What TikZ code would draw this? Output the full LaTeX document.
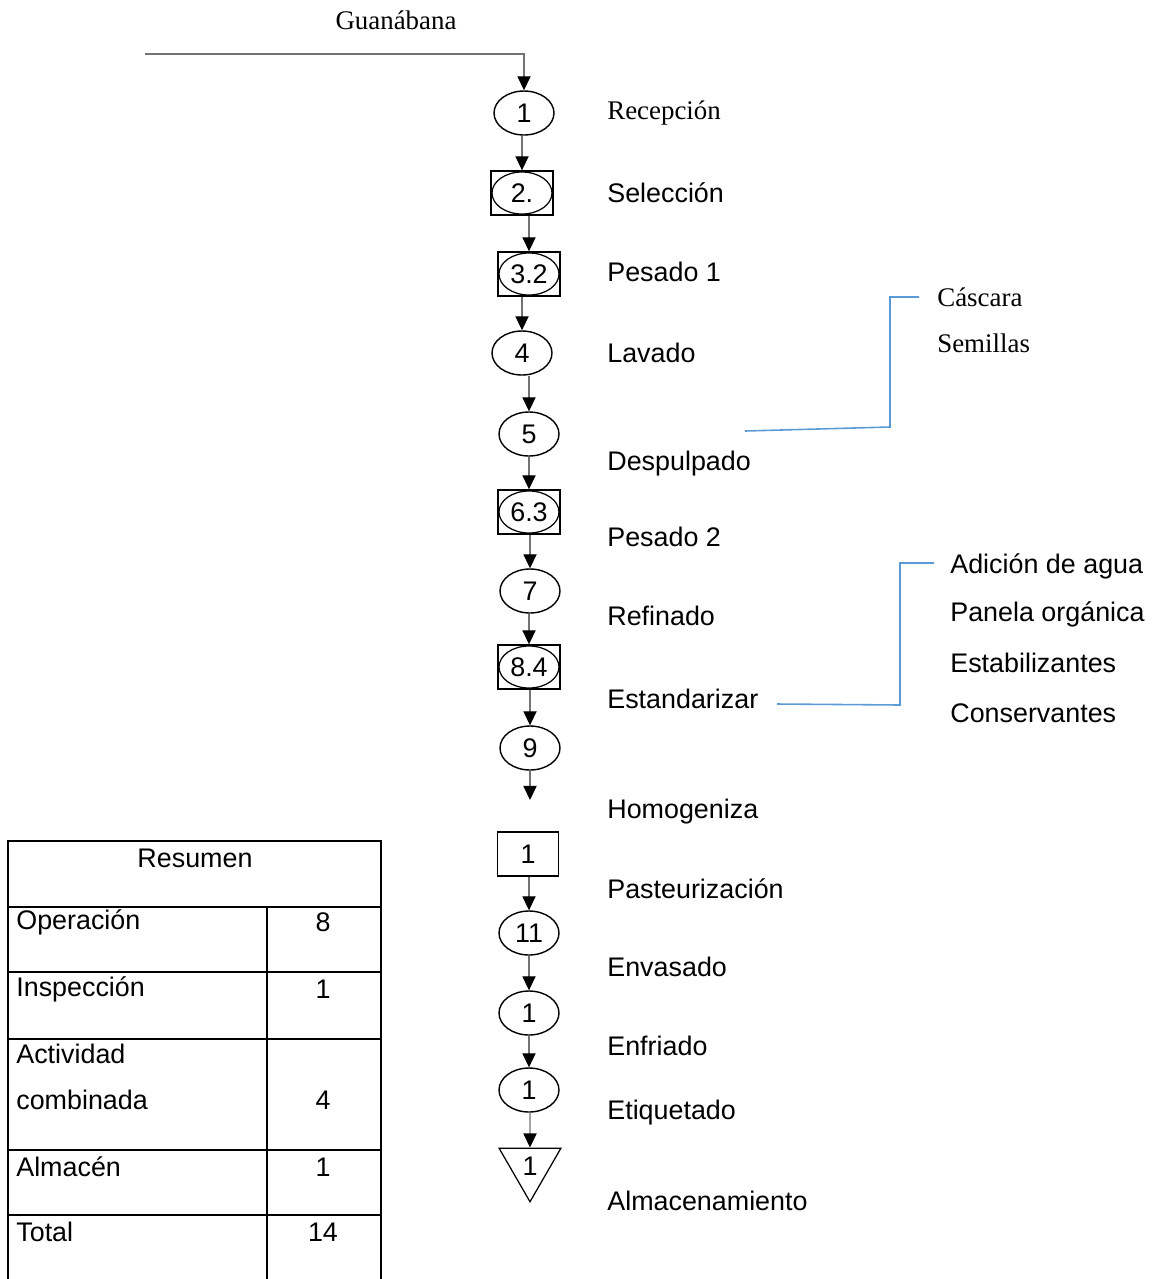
\documentclass[tikz,border=0pt]{standalone}
\usepackage{fontspec}
\setmainfont{Liberation Sans}
\newfontfamily\serifa{Liberation Serif}
\usetikzlibrary{shapes.geometric,arrows.meta}
\definecolor{azulclaro}{RGB}{91,155,213}
\tikzset{
  oper/.style={draw,line width=0.8pt,ellipse,minimum width=1.2cm,minimum height=0.88cm,inner sep=0pt},
  comb/.style={draw,line width=0.8pt,rectangle,minimum width=1.24cm,minimum height=0.88cm,inner sep=0pt,
    path picture={\draw[line width=0.7pt] (path picture bounding box.center) ellipse (0.6cm and 0.42cm);}},
  insp/.style={draw,line width=0.8pt,rectangle,minimum width=1.22cm,minimum height=0.88cm,inner sep=0pt},
  alm/.style={draw,line width=0.7pt,regular polygon,regular polygon sides=3,shape border rotate=180,minimum size=1.43cm,inner sep=0pt},
  flecha/.style={draw=black!55,line width=0.7pt,-{Triangle[width=7.5pt,length=8pt,color=black]}},
  etiqueta/.style={anchor=west,inner sep=0pt},
  azul/.style={draw=azulclaro,line width=0.9pt},
  tabla/.style={line width=1pt}
}
\begin{document}
\begin{tikzpicture}[x=0.02cm,y=-0.02cm,font=\fontsize{15.3pt}{18pt}\selectfont]
		\useasboundingbox (0,0) rectangle (1156,1279);
		%Entrada
		\node (gua) at (396,20) {\serifa Guanábana};
		\coordinate (ent) at (145,54);
		%Simbolos del proceso
		\node[oper] (n1) at (524,113) {1};
		\node[comb] (n2) at (522,193) {2.};
		\node[comb] (n3) at (529,274) {3.2};
		\node[oper] (n4) at (522,353) {4};
		\node[oper] (n5) at (529,434) {5};
		\node[comb] (n6) at (529,512) {6.3};
		\node[oper] (n7) at (530,591) {7};
		\node[comb] (n8) at (529,667) {8.4};
		\node[oper] (n9) at (530,748) {9};
		\coordinate (f9) at (530,800);
		\node[insp] (n10) at (528,854) {1};
		\node[oper] (n11) at (529,933) {11};
		\node[oper] (n12) at (529,1013) {1};
		\node[oper] (n13) at (529,1090) {1};
		\node[alm] (n14) at (530,1166) {1};
		%Flechas
		\draw[flecha] (ent) -| (n1.north);
		\draw[flecha] (n1.south -| n2) -- (n2.north);
		\draw[flecha] (n2.south -| n3) -- (n3.north);
		\draw[flecha] (n3.south -| n4) -- (n4.north);
		\draw[flecha] (n4.south -| n5) -- (n5.north);
		\draw[flecha] (n5.south -| n6) -- (n6.north);
		\draw[flecha] (n6.south -| n7) -- (n7.north);
		\draw[flecha] (n7.south -| n8) -- (n8.north);
		\draw[flecha] (n8.south -| n9) -- (n9.north);
		\draw[flecha] (n9.south) -- (f9);
		\draw[flecha] (n10.south -| n11) -- (n11.north);
		\draw[flecha] (n11.south) -- (n12.north);
		\draw[flecha] (n12.south) -- (n13.north);
		\draw[flecha] (n13.south -| n14) -- (n14.north);
		%Nombres de las etapas
		\node[etiqueta] (t1) at (607,113) {\serifa Recepción};
		\node[etiqueta] (t2) at (607,193) {Selección};
		\node[etiqueta] (t3) at (607,272) {Pesado 1};
		\node[etiqueta] (t4) at (607,353) {Lavado};
		\node[etiqueta] (t5) at (607,464) {Despulpado};
		\node[etiqueta] (t6) at (607,537) {Pesado 2};
		\node[etiqueta] (t7) at (607,616) {Refinado};
		\node[etiqueta] (t8) at (607,699) {Estandarizar};
		\node[etiqueta] (t9) at (607,812) {Homogeniza};
		\node[etiqueta] (t10) at (607,889) {Pasteurización};
		\node[etiqueta] (t11) at (607,967) {Envasado};
		\node[etiqueta] (t12) at (607,1046) {Enfriado};
		\node[etiqueta] (t13) at (607,1113) {Etiquetado};
		\node[etiqueta] (t14) at (607,1201) {Almacenamiento};
		%Salidas y entradas laterales
		\node[etiqueta] (cas) at (937,297) {\serifa Cáscara};
		\node[etiqueta] (sem) at (937,343) {\serifa Semillas};
		\coordinate (d1) at (745,431);
		\coordinate (d2) at (919,297);
		\draw[azul] (d1) -- (890,427) -- (890,297) -- (d2);
		\node[etiqueta] (ag) at (950,566) {Adición de agua};
		\node[etiqueta] (pan) at (950,614) {Panela orgánica};
		\node[etiqueta] (est) at (950,663) {Estabilizantes};
		\node[etiqueta] (con) at (950,713) {Conservantes};
		\coordinate (e1) at (777,704);
		\coordinate (e2) at (934,563);
		\draw[azul] (e1) -- (900,705) -- (900,563) -- (e2);
		%Tabla resumen
		\draw[tabla] (8,1279) -- (8,841) -- (381,841) -- (381,1279);
		\draw[tabla] (8,907) -- (381,907);
		\draw[tabla] (8,972) -- (381,972);
		\draw[tabla] (8,1039) -- (381,1039);
		\draw[tabla] (8,1150) -- (381,1150);
		\draw[tabla] (8,1215) -- (381,1215);
		\draw[tabla] (267,907) -- (267,1279);
		\node (res) at (195,858) {Resumen};
		\node[etiqueta] (op) at (16,922) {Operación};
		\node (opn) at (323,922) {8};
		\node[etiqueta] (ins) at (16,989) {Inspección};
		\node (insn) at (323,989) {1};
		\node[etiqueta] (act) at (16,1054) {Actividad};
		\node[etiqueta] (acomb) at (16,1100) {combinada};
		\node (actn) at (323,1100) {4};
		\node[etiqueta] (alma) at (16,1167) {Almacén};
		\node (alman) at (323,1167) {1};
		\node[etiqueta] (tot) at (16,1232) {Total};
		\node (totn) at (323,1232) {14};
	\end{tikzpicture}
\end{document}
